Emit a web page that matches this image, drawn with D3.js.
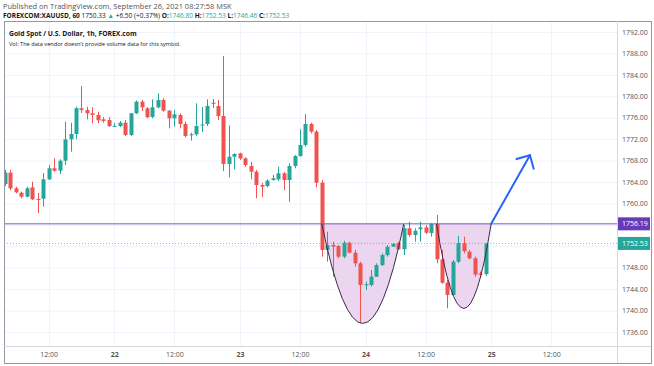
<!DOCTYPE html>
<html><head><meta charset="utf-8">
<script src="https://cdn.jsdelivr.net/npm/d3@7"></script>
<style>body{margin:0;background:#fff}svg{display:block}text{font-family:"Open Sans",sans-serif}</style>
</head><body><svg id="c" width="654" height="366"></svg>
<script>
// ---- data (1h bars, Sep 21 – Sep 24) ----
const openP  = [1763.63,1765.74,1762.82,1762.0,1761.26,1763.01,1760.83,1760.88,1764.5,1766.56,1766.11,1767.98,1771.97,1772.96,1777.76,1777.44,1776.82,1776.51,1775.7,1775.57,1774.40,1774.45,1775.07,1772.77,1776.82,1778.99,1777.76,1776.13,1777.94,1779.31,1777.31,1775.89,1776.51,1774.83,1772.72,1772.9,1774.58,1774.83,1778.6,1778.19,1776.32,1767.36,1768.72,1769.35,1768.42,1766.99,1765.92,1763.44,1763.25,1764.37,1764.5,1765.62,1764.37,1766.99,1768.85,1770.91,1774.83,1773.39,1763.87,1751.31,1752.24,1752.05,1750.06,1752.67,1750.8,1748.82,1744.77,1744.77,1746.32,1748.5,1750.37,1751.92,1752.56,1751.44,1755.36,1754.11,1755.17,1755.54,1754.48,1756.16,1749.57,1745.2,1742.91,1749.12,1752.56,1751.0,1749.76,1746.9,1746.80];
const highP  = [1766.24,1766.24,1763.12,1762.19,1763.12,1764.06,1761.95,1765.68,1767.17,1768.42,1768.24,1775.26,1775.07,1778.06,1781.92,1778.06,1777.94,1777.12,1776.13,1776.13,1775.01,1775.39,1775.57,1776.88,1779.21,1779.31,1778.0,1779.44,1780.56,1779.62,1777.44,1777.44,1776.82,1775.26,1773.2,1778.69,1778.0,1779.44,1779.5,1779.31,1787.52,1774.55,1769.35,1769.47,1768.61,1767.73,1766.24,1763.81,1764.5,1765.31,1766.86,1765.87,1767.49,1769.04,1773.84,1776.69,1775.07,1773.71,1764.37,1754.72,1752.86,1752.24,1753.04,1752.86,1751.31,1749.12,1745.39,1747.57,1748.82,1750.69,1752.24,1752.61,1752.86,1755.97,1756.59,1755.36,1756.59,1755.97,1756.29,1757.84,1751.31,1745.71,1749.44,1753.92,1753.79,1751.31,1750.06,1747.3,1752.53];
const lowP   = [1763.25,1762.5,1761.89,1760.96,1761.14,1760.64,1758.21,1759.39,1764.37,1765.92,1765.49,1767.17,1769.66,1771.97,1776.88,1775.7,1774.96,1774.96,1775.07,1774.27,1774.27,1774.27,1772.59,1772.59,1776.69,1777.25,1775.95,1775.89,1777.76,1777.12,1774.02,1774.32,1774.02,1772.34,1771.71,1772.59,1773.33,1774.45,1777.8,1775.57,1766.05,1764.88,1766.37,1768.11,1766.86,1764.5,1760.96,1761.2,1763.01,1764.24,1764.24,1762.5,1760.32,1766.56,1768.72,1770.59,1773.09,1763.01,1750.06,1749.12,1746.32,1749.76,1749.76,1750.69,1748.19,1737.62,1743.84,1744.46,1746.27,1748.32,1750.06,1751.87,1751.31,1750.37,1753.79,1752.86,1752.86,1754.29,1753.79,1748.82,1744.96,1740.42,1742.72,1748.82,1750.69,1749.57,1746.32,1746.2,1746.46];
const closeP = [1765.74,1762.82,1762.08,1761.26,1762.82,1760.77,1760.80,1764.5,1766.56,1766.11,1767.98,1771.97,1772.96,1777.76,1777.44,1776.82,1776.51,1775.52,1775.39,1774.45,1774.48,1775.07,1772.77,1776.82,1778.99,1777.94,1776.08,1777.94,1779.31,1777.31,1775.89,1776.64,1774.83,1772.59,1772.9,1774.45,1774.73,1778.19,1778.8,1776.32,1767.36,1768.72,1769.23,1768.42,1767.17,1765.92,1763.44,1763.12,1764.24,1764.69,1765.62,1764.37,1766.99,1768.85,1770.91,1774.83,1773.39,1763.87,1751.31,1752.24,1751.92,1750.06,1752.67,1750.8,1748.82,1744.77,1744.9,1746.32,1748.5,1750.37,1751.92,1752.43,1751.44,1755.36,1754.11,1754.91,1755.54,1754.53,1756.16,1749.57,1745.2,1742.91,1749.12,1752.61,1751.08,1749.76,1746.73,1746.7,1752.53];
const priceTicks = [1736,1740,1744,1748,1752,1756,1760,1764,1768,1772,1776,1780,1784,1788,1792];
const timeTickBars = [8,20,31,43,54,66,77,89,100];
const timeTickLabels = ["12:00","22","12:00","23","12:00","24","12:00","25","12:00"];
const resistanceLevel = 1756.19;
const lastPrice = 1752.53;
const cupStarts = [58,79], cupEnds = [73,89], cupBottoms = [1737.6,1740.4];
const arrowFrom = [89,1756.19], arrowTo = [96.1,1769.0];

// ---- layout ----
const W=654,H=366;
const pane={l:4,r:617,t:21,b:346};
const svg=d3.select("#c");
const x=d3.scaleLinear().domain([0,88]).range([5,485.7]);
const y=d3.scaleLinear().domain([1736,1792]).range([332,32]);
const UP="#26a69a",DOWN="#ef5350";

svg.append("rect").attr("width",W).attr("height",H).attr("fill","#fff");

// header
function fit(t,w){const n=t.node();const l=n.getComputedTextLength();const fs=parseFloat(t.attr("font-size"));t.attr("font-size",fs*w/l);}
const h1=svg.append("text").attr("x",3).attr("y",9).attr("font-size",7).attr("fill","#555")
  .text("Published on TradingView.com, September 26, 2021 08:27:58 MSK");
fit(h1,229);
const h2=svg.append("text").attr("x",3).attr("y",18).attr("font-size",7).attr("fill","#131722");
h2.append("tspan").attr("font-weight","bold").text("FOREXCOM:XAUUSD, 60 ");
h2.append("tspan").text("1750.33 ");
h2.append("tspan").attr("fill",UP).text("▲");
h2.append("tspan").text(" +6.50 (+0.37%) ");
[["O:","1746.80"],["H:","1752.53"],["L:","1746.46"],["C:","1752.53"]].forEach(([k,v])=>{
  h2.append("tspan").attr("font-weight","bold").text(k);
  h2.append("tspan").attr("fill",UP).text(v+" ");
});
fit(h2,287);

// grid
const g=svg.append("g");
g.selectAll(".hg").data(priceTicks).join("line").attr("x1",pane.l).attr("x2",pane.r)
  .attr("y1",d=>y(d)+0.5).attr("y2",d=>y(d)+0.5).attr("stroke","#f0f3fa");
g.selectAll(".vg").data(timeTickBars).join("line").attr("y1",pane.t).attr("y2",pane.b)
  .attr("x1",d=>Math.round(x(d))+0.5).attr("x2",d=>Math.round(x(d))+0.5).attr("stroke","#f0f3fa");

// legend inside pane
svg.append("text").attr("x",9).attr("y",36).attr("font-size",8).attr("font-weight","bold").attr("fill","#131722")
  .text("Gold Spot / U.S. Dollar, 1h, FOREX.com").call(t=>fit(t,128));
svg.append("text").attr("x",9).attr("y",45.5).attr("font-size",7).attr("fill","#131722")
  .text("Vol: The data vendor doesn't provide volume data for this symbol.").call(t=>fit(t,172));

svg.append("clipPath").attr("id","pc").append("rect").attr("x",pane.l+1).attr("y",pane.t).attr("width",pane.r-pane.l-1).attr("height",pane.b-pane.t);
const plot=svg.append("g").attr("clip-path","url(#pc)");

// cup fills
const cups=cupStarts.map((s,i)=>({s,e:cupEnds[i],b:cupBottoms[i]}));
function cupPath(c,close){const ctrl=2*c.b-resistanceLevel;
  return `M${x(c.s)},${y(resistanceLevel)} Q${x((c.s+c.e)/2)},${y(ctrl)} ${x(c.e)},${y(resistanceLevel)}`+(close?"Z":"");}
plot.selectAll(".cupf").data(cups).join("path").attr("d",c=>cupPath(c,true)).attr("fill","#ebd5ef");

// last price line
plot.append("line").attr("x1",pane.l).attr("x2",pane.r).attr("y1",y(lastPrice)).attr("y2",y(lastPrice))
  .attr("stroke",UP).attr("stroke-dasharray","1,2").attr("stroke-opacity",0.6);

// candles
const idx=d3.range(openP.length);
const cg=plot.append("g");
cg.selectAll(".w").data(idx).join("line")
  .attr("x1",i=>Math.round(x(i))+0.5).attr("x2",i=>Math.round(x(i))+0.5)
  .attr("y1",i=>y(highP[i])).attr("y2",i=>y(lowP[i]))
  .attr("stroke",i=>closeP[i]>=openP[i]?UP:DOWN).attr("stroke-width",1);
cg.selectAll(".b").data(idx).join("rect")
  .attr("x",i=>Math.round(x(i))-1.5).attr("width",4)
  .attr("y",i=>y(Math.max(openP[i],closeP[i])))
  .attr("height",i=>Math.max(1,Math.abs(y(openP[i])-y(closeP[i]))))
  .attr("fill",i=>closeP[i]>=openP[i]?UP:DOWN);

// resistance line
plot.append("line").attr("x1",pane.l).attr("x2",pane.r).attr("y1",y(resistanceLevel)).attr("y2",y(resistanceLevel))
  .attr("stroke","#7e57c2").attr("stroke-width",1);
// cup curves
plot.selectAll(".cups").data(cups).join("path").attr("d",c=>cupPath(c,false)).attr("fill","none")
  .attr("stroke","#3e2a4d").attr("stroke-width",1);

// arrow
const ax0=x(arrowFrom[0]),ay0=y(arrowFrom[1]),ax1=x(arrowTo[0]),ay1=y(arrowTo[1]);
const ang=Math.atan2(ay0-ay1,ax0-ax1),L=14;
const arr=plot.append("g").attr("stroke","#2962ff").attr("stroke-width",2).attr("stroke-linecap","round").attr("fill","none");
arr.append("line").attr("x1",ax0).attr("y1",ay0).attr("x2",ax1).attr("y2",ay1);
[-Math.PI/4,Math.PI/4].forEach(d=>arr.append("line").attr("x1",ax1).attr("y1",ay1)
  .attr("x2",ax1+L*Math.cos(ang+d)).attr("y2",ay1+L*Math.sin(ang+d)));

// axes (tick labels hidden behind the highlighted price labels are not drawn)
const shownPriceTicks=priceTicks.filter(p=>Math.abs(y(p)-y(resistanceLevel))>8&&Math.abs(y(p)-y(lastPrice))>8);
const yAxis=svg.append("g").attr("transform",`translate(${pane.r},0)`)
  .call(d3.axisRight(y).tickValues(shownPriceTicks).tickFormat(d3.format(".2f")).tickSize(0).tickPadding(5));
yAxis.select(".domain").remove();
yAxis.selectAll("text").attr("font-size",7).attr("fill","#555").attr("font-family","Open Sans, sans-serif");
const xAxis=svg.append("g").attr("transform",`translate(0,${pane.b})`)
  .call(d3.axisBottom(x).tickValues(timeTickBars).tickFormat((d,i)=>timeTickLabels[i]).tickSize(0).tickPadding(6));
xAxis.select(".domain").remove();
xAxis.selectAll("text").attr("font-size",7).attr("fill","#555").attr("font-family","Open Sans, sans-serif")
  .attr("font-weight",(d,i)=>timeTickLabels[i].includes(":")?"normal":"bold");

// price labels
[[resistanceLevel,"#673ab7"],[lastPrice,UP]].forEach(([p,c])=>{
  svg.append("rect").attr("x",pane.r).attr("y",y(p)-6.5).attr("width",33).attr("height",13).attr("fill",c);
  svg.append("text").attr("x",pane.r+5).attr("y",y(p)+2.5).attr("font-size",7).attr("fill","#fff").text(p.toFixed(2));
});

// frame
const fr=svg.append("g").attr("stroke","#9598a1").attr("fill","none").attr("shape-rendering","crispEdges");
fr.append("rect").attr("x",pane.l).attr("y",pane.t).attr("width",651-pane.l).attr("height",363-pane.t);
fr.append("line").attr("x1",pane.r).attr("x2",pane.r).attr("y1",pane.t).attr("y2",363).attr("stroke","#d6d8de");
fr.append("line").attr("x1",pane.l).attr("x2",651).attr("y1",pane.b).attr("y2",pane.b).attr("stroke","#d6d8de");
</script></body></html>
